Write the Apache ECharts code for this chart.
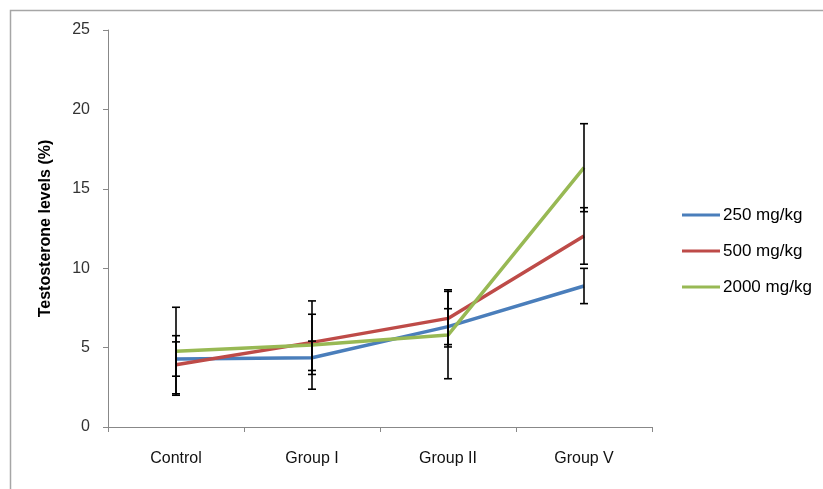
<!DOCTYPE html>
<html>
<head>
<meta charset="utf-8">
<script src="https://cdn.jsdelivr.net/npm/echarts@6/dist/echarts.min.js"></script>
<style>html,body{margin:0;padding:0;background:#fff;}#c{width:823px;height:489px;}</style>
</head>
<body>
<div id="c"></div>
<script>
var categories = ['Control', 'Group I', 'Group II', 'Group V'];
var seriesNames = ['250 mg/kg', '500 mg/kg', '2000 mg/kg'];
var values250 = [4.28, 4.36, 6.32, 8.88];
var values500 = [3.92, 5.33, 6.84, 12.03];
var values2000 = [4.77, 5.16, 5.79, 16.33];
var err250 = [1.08, 1.05, 1.13, 1.11];
var err500 = [1.83, 1.77, 1.8, 1.78];
var err2000 = [2.77, 2.78, 2.75, 2.77];
var yTicks = [0, 5, 10, 15, 20, 25];
var colors = ['#4A7EBB', '#BE4B48', '#98B954'];

var allValues = [values250, values500, values2000];
var allErr = [err250, err500, err2000];
var font = 'Liberation Sans, Arial, sans-serif';

var chart = echarts.init(document.getElementById('c'));
var series = [];
allValues.forEach(function (vals, i) {
  series.push({
    name: seriesNames[i], type: 'line', data: vals,
    symbol: 'none', lineStyle: { width: 3.5, color: colors[i] },
    itemStyle: { color: colors[i] }, z: 2, animation: false
  });
});
allValues.forEach(function (vals, i) {
  series.push({
    type: 'custom', z: 5, animation: false, silent: true,
    data: vals.map(function (v, k) { return [k, v - allErr[i][k], v + allErr[i][k]]; }),
    encode: { x: 0, y: [1, 2] },
    renderItem: function (params, api) {
      var lo = api.coord([api.value(0), api.value(1)]);
      var hi = api.coord([api.value(0), api.value(2)]);
      var w = 4;
      var st = { stroke: '#000', lineWidth: 1.6 };
      return { type: 'group', children: [
        { type: 'line', shape: { x1: hi[0], y1: hi[1], x2: lo[0], y2: lo[1] }, style: st },
        { type: 'line', shape: { x1: hi[0] - w, y1: hi[1], x2: hi[0] + w, y2: hi[1] }, style: st },
        { type: 'line', shape: { x1: lo[0] - w, y1: lo[1], x2: lo[0] + w, y2: lo[1] }, style: st }
      ]};
    }
  });
});

chart.setOption({
  animation: false,
  backgroundColor: '#fff',
  graphic: [{ type: 'rect', shape: { x: 10.5, y: 10.5, width: 900, height: 600 },
    style: { fill: 'none', stroke: '#a6a6a6', lineWidth: 1.5 }, silent: true }],
  grid: { left: 108, right: 171, top: 30, bottom: 62 },
  legend: {
    orient: 'vertical', left: 682, top: 205, padding: 0,
    data: seriesNames, icon: 'rect', itemWidth: 38, itemHeight: 3, itemGap: 16,
    textStyle: { fontFamily: font, fontSize: 17, color: '#000', lineHeight: 20, padding: [0, 0, 0, -2] }
  },
  xAxis: {
    type: 'category', data: categories, boundaryGap: true,
    axisLine: { lineStyle: { color: '#888', width: 1 } },
    axisTick: { show: true, length: 5, lineStyle: { color: '#888' } },
    axisLabel: { fontFamily: font, fontSize: 16, color: '#111', margin: 24 },
    splitLine: { show: false }
  },
  yAxis: {
    type: 'value', min: 0, max: 25, interval: 5,
    name: 'Testosterone levels (%)', nameLocation: 'middle', nameGap: 54, nameRotate: 90,
    nameTextStyle: { fontFamily: font, fontSize: 16, fontWeight: 'bold', color: '#000' },
    axisLine: { show: true, lineStyle: { color: '#888', width: 1 } },
    axisTick: { show: true, length: 5, lineStyle: { color: '#888' } },
    axisLabel: { fontFamily: font, fontSize: 16, color: '#333', margin: 18,
      formatter: function (v) { return yTicks.indexOf(v) >= 0 ? String(v) : ''; } },
    splitLine: { show: false }
  },
  series: series
});
</script>
</body>
</html>
